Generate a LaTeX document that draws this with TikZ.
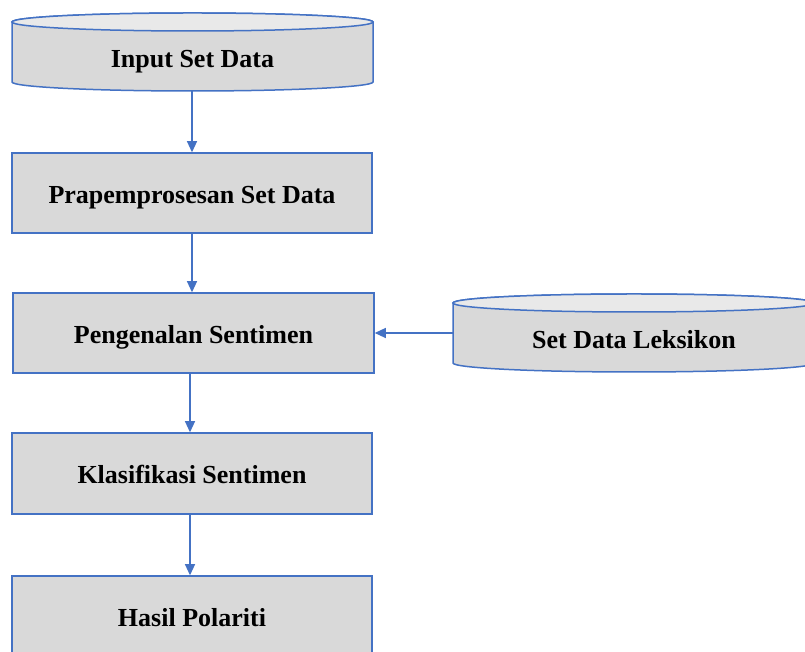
\documentclass[tikz,border=0pt]{standalone}
\usepackage{fontspec}
\setmainfont{Liberation Serif}
\usetikzlibrary{arrows.meta}
\definecolor{bblue}{HTML}{4472C4}
\definecolor{boxgray}{HTML}{D9D9D9}
\definecolor{topgray}{HTML}{E9E9E9}
\tikzset{
  stepbox/.style={draw=bblue, fill=boxgray, line width=1.5pt, minimum width=360pt, minimum height=80pt, inner sep=0pt, text height=21pt, text depth=0pt, font=\fontsize{26}{30}\selectfont\bfseries},
  cyltext/.style={inner sep=0pt, minimum width=361pt, minimum height=69pt, text height=23pt, text depth=0pt, font=\fontsize{26}{30}\selectfont\bfseries},
  cylbody/.style={draw=bblue, fill=boxgray, line width=1.5pt},
  cyltop/.style={draw=bblue, fill=topgray, line width=1.5pt},
  conn/.style={draw=bblue, line width=1.1pt, -{Triangle[length=11pt,width=10pt]}}
}
\begin{document}
\begin{tikzpicture}[x=1pt,y=1pt]
\useasboundingbox (0,0) rectangle (805,652);
% cylinder 1
\path[cylbody] (12,630) -- (12,570) arc[start angle=180, end angle=360, x radius=180.5, y radius=9] -- (373,630) arc[start angle=0, end angle=180, x radius=180.5, y radius=9] -- cycle;
\path[cyltop] (192.5,630) ellipse[x radius=180.5, y radius=9];
\node[cyltext] (c1) at (192.5,595.5) {Input Set Data};
% cylinder 2
\path[cylbody] (453,349) -- (453,289) arc[start angle=180, end angle=360, x radius=181, y radius=9] -- (815,349) arc[start angle=0, end angle=180, x radius=181, y radius=9] -- cycle;
\path[cyltop] (634,349) ellipse[x radius=181, y radius=9];
\node[cyltext, minimum width=362pt] (c2) at (634,314.5) {Set Data Leksikon};
% boxes
\node[stepbox] (n2) at (192,459) {Prapemprosesan Set Data};
\node[stepbox, minimum width=361pt] (n3) at (193.5,319) {Pengenalan Sentimen};
\node[stepbox, minimum height=81pt] (n4) at (192,178.5) {Klasifikasi Sentimen};
\node[stepbox] (n5) at (192,36) {Hasil Polariti};
% connectors
\draw[conn] (c1.south -| n2.north) -- (n2.north);
\draw[conn] (n2.south) -- (n3.north -| n2.south);
\draw[conn] ([xshift=-3.5pt]n3.south) -- ([xshift=-3.5pt]n3.south |- n4.north);
\draw[conn] ([xshift=-2pt]n4.south) -- ([xshift=-2pt]n4.south |- n5.north);
\draw[conn] (c2.west |- n3.east) -- (n3.east);
\end{tikzpicture}
\end{document}
